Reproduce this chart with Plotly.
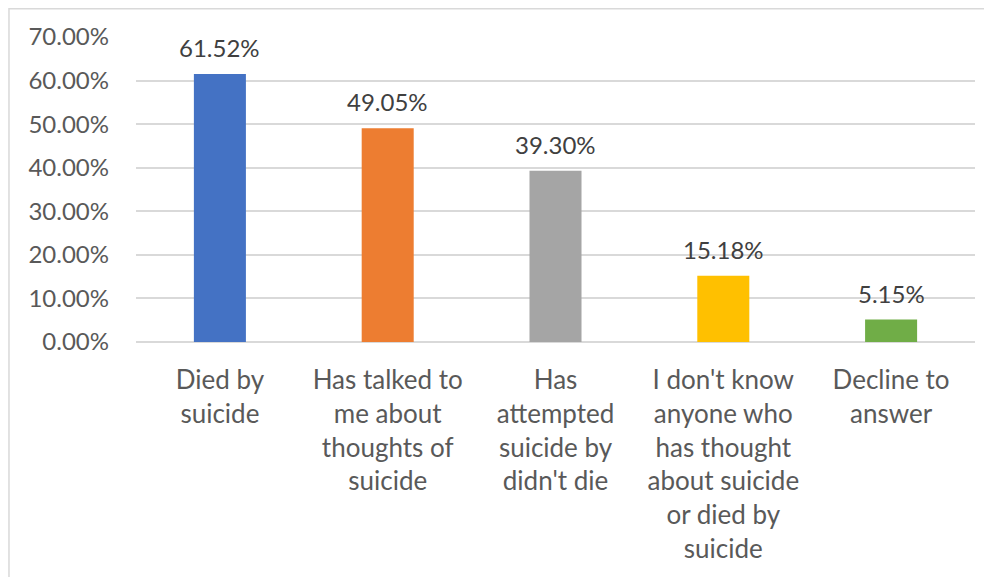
import plotly.graph_objects as go

categories = [
    "Died by<br>suicide",
    "Has talked to<br>me about<br>thoughts of<br>suicide",
    "Has<br>attempted<br>suicide by<br>didn't die",
    "I don't know<br>anyone who<br>has thought<br>about suicide<br>or died by<br>suicide",
    "Decline to<br>answer",
]
values = [0.6152, 0.4905, 0.3930, 0.1518, 0.0515]
colors = ["#4472C4", "#ED7D31", "#A5A5A5", "#FFC000", "#70AD47"]
tick_vals = [0, 0.1, 0.2, 0.3, 0.4, 0.5, 0.6, 0.7]

FONT = "Lato"
TXT = "#595959"

fig = go.Figure(
    go.Bar(
        x=categories,
        y=values,
        marker=dict(color=colors, line=dict(width=0)),
        cliponaxis=False,
    )
)

for c, v in zip(categories, values):
    fig.add_annotation(
        x=c, y=v, xref="x", yref="y",
        text=f"{v * 100:.2f}%",
        showarrow=False,
        yanchor="bottom",
        yshift=10,
        font=dict(family=FONT, size=24, color="#404040"),
    )

fig.update_layout(
    width=992,
    height=577,
    margin=dict(l=128, r=25, t=29, b=243),
    paper_bgcolor="white",
    plot_bgcolor="white",
    bargap=0.69,
    showlegend=False,
    font=dict(family=FONT, size=24, color=TXT),
    shapes=[
        dict(
            type="rect", xref="paper", yref="paper",
            x0=-0.1514, x1=1.5, y0=-2, y1=1.093,
            line=dict(color="#D9D9D9", width=1.5), fillcolor="rgba(0,0,0,0)",
            layer="below",
        )
    ],
)

fig.update_yaxes(
    range=[0, 0.7],
    tickvals=tick_vals,
    tickformat=".2%",
    showgrid=True,
    gridcolor="#D9D9D9",
    gridwidth=1.5,
    zeroline=True,
    zerolinecolor="#D9D9D9",
    zerolinewidth=1.5,
    showline=False,
    ticks="",
    ticklabelstandoff=26,
    tickfont=dict(family=FONT, size=24, color=TXT),
)
fig.update_xaxes(
    showgrid=False,
    showline=False,
    ticks="",
    tickangle=0,
    ticklabelstandoff=20,
    tickfont=dict(family=FONT, size=26, color=TXT),
)

fig.write_html("out.html")
